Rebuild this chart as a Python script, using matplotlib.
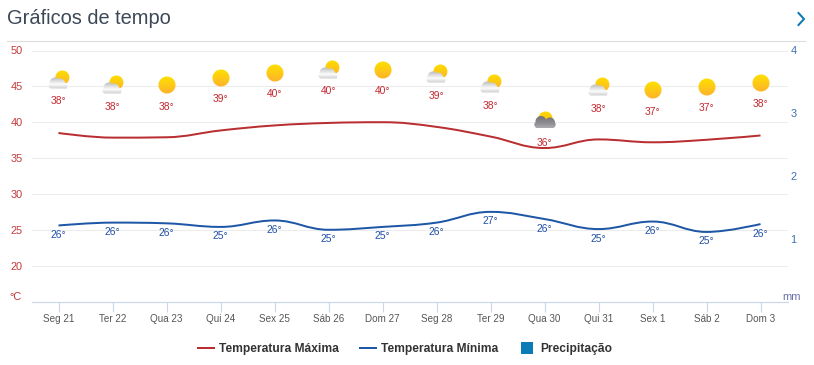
import numpy as np
import matplotlib
matplotlib.use("Agg")
import matplotlib.pyplot as plt
from matplotlib.lines import Line2D
from matplotlib.patches import PathPatch
from matplotlib.path import Path
from matplotlib.offsetbox import OffsetImage, AnnotationBbox

plt.rcParams['font.family'] = ['Liberation Sans', 'DejaVu Sans']

dias = ["Seg 21", "Ter 22", "Qua 23", "Qui 24", "Sex 25", "Sáb 26", "Dom 27",
        "Seg 28", "Ter 29", "Qua 30", "Qui 31", "Sex 1", "Sáb 2", "Dom 3"]
temp_max = [38.5, 37.85, 37.9, 38.85, 39.55, 39.9, 40.0, 39.35, 38.0, 36.4, 37.6, 37.2, 37.55, 38.15]
temp_min = [25.6, 26.0, 25.9, 25.4, 26.3, 25.0, 25.4, 26.0, 27.5, 26.5, 25.1, 26.15, 24.7, 25.8]
precip = [0] * 14
rotulos_max = [38, 38, 38, 39, 40, 40, 40, 39, 38, 36, 38, 37, 37, 38]
rotulos_min = [26, 26, 26, 25, 26, 25, 25, 26, 27, 26, 25, 26, 25, 26]
# hidden series that carries the weather icons and the max labels
nivel_icone = [42.89, 42.19, 42.19, 43.17, 43.93, 44.35, 44.35, 43.7, 42.3, 37.14, 41.88, 41.46, 41.94, 42.5]
tempo = ["nuvem", "nuvem", "sol", "sol", "sol", "nuvem", "sol",
         "nuvem", "nuvem", "chuva", "nuvem", "sol", "sol", "sol"]

W, H = 814, 365
VERMELHO = "#b92e30"
AZUL = "#1f57a7"
px = 72 / 100  # points per pixel


def spline(xs, ys):
    # same control points as a highcharts spline
    verts = [(xs[0], ys[0])]
    codes = [Path.MOVETO]
    n = len(xs)
    cont = []
    for i in range(n):
        if i == 0 or i == n - 1:
            cont.append((xs[i], ys[i], xs[i], ys[i]))
            continue
        x, y = xs[i], ys[i]
        lx = (1.5 * x + xs[i - 1]) / 2.5
        ly = (1.5 * y + ys[i - 1]) / 2.5
        rx = (1.5 * x + xs[i + 1]) / 2.5
        ry = (1.5 * y + ys[i + 1]) / 2.5
        c = (ry - ly) * (rx - x) / (rx - lx) + y - ry
        ly += c
        ry += c
        if ly > ys[i - 1] and ly > y:
            ly = max(ys[i - 1], y)
            ry = 2 * y - ly
        elif ly < ys[i - 1] and ly < y:
            ly = min(ys[i - 1], y)
            ry = 2 * y - ly
        if ry > ys[i + 1] and ry > y:
            ry = max(ys[i + 1], y)
            ly = 2 * y - ry
        elif ry < ys[i + 1] and ry < y:
            ry = min(ys[i + 1], y)
            ly = 2 * y - ry
        cont.append((lx, ly, rx, ry))
    for i in range(1, n):
        verts += [(cont[i - 1][2], cont[i - 1][3]), (cont[i][0], cont[i][1]), (xs[i], ys[i])]
        codes += [Path.CURVE4] * 3
    return Path(verts, codes)


def hexrgb(c):
    return np.array(matplotlib.colors.to_rgb(c))


def camada(img, alpha, topo, base, y0, y1, yy):
    # paints a vertical gradient through a mask onto the icon (premultiplied)
    t = np.clip((yy - y0) / (y1 - y0), 0, 1)[..., None]
    cor = hexrgb(topo) * (1 - t) + hexrgb(base) * t
    a = alpha[..., None]
    img[..., :3] = cor * a + img[..., :3] * (1 - a)
    img[..., 3] = alpha + img[..., 3] * (1 - alpha)


def icone(tipo):
    s = 26
    yy, xx = np.mgrid[0:s, 0:s] + 0.5 - s / 2
    img = np.zeros((s, s, 4))

    def disco(cx, cy, r):
        return np.clip(r + 0.5 - np.hypot(xx - cx, yy - cy), 0, 1)

    if tipo == "sol":
        camada(img, disco(0, 0, 8.5), "#ffdf00", "#fdb42a", -8, 8, yy)
    else:
        if tipo == "nuvem":
            camada(img, disco(3.4, -2.5, 7), "#ffdc00", "#fdb42a", -9, 5, yy)
            topo, meio, base = "#b8b8b8", "#fafafa", "#d2d2d2"
            nuvem = [(-4, 3, 5.5), (1, 3.5, 5), (5.5, 5.5, 3), (-7.5, 5.5, 3)]
            fundo, y_meio = 8.5, 4
        else:
            camada(img, disco(0.5, -2.5, 7), "#ffdc00", "#f8c010", -10, 0, yy)
            topo, meio, base = "#77777d", "#8f8f95", "#acacb0"
            nuvem = [(-4, 0.5, 5.5), (5, 1.5, 5), (-7, 3.5, 3.5), (7, 3.5, 3.5), (0, 3, 4)]
            fundo, y_meio = 7, 2
        mask = np.zeros((s, s))
        for c in nuvem:
            mask = np.maximum(mask, disco(c[0], c[1], c[2]))
        barra = np.clip(fundo + 0.5 - yy, 0, 1) * (yy > 3) * (np.abs(xx) < 8.5)
        mask = np.maximum(mask, barra)
        camada(img, mask, topo, meio, -3, y_meio, yy)
        camada(img, mask * np.clip((yy - y_meio) / 2, 0, 1), meio, base, y_meio, fundo, yy)
    # back to straight alpha, otherwise the edges come out dark
    a = np.maximum(img[..., 3:], 1e-6)
    img[..., :3] = np.clip(img[..., :3] / a, 0, 1)
    return img


fig = plt.figure(figsize=(W / 100, H / 100), dpi=100)
ax = fig.add_axes([31.5 / W, 1 - 301.5 / H, 756 / W, 251 / H])
x = np.arange(len(dias))

ax.set_xlim(-0.5, 13.5)
ax.set_ylim(15, 50)
ax.set_yticks(range(20, 55, 5))
ax.yaxis.grid(True, color="#ececec", lw=1.1 * px)
ax.set_axisbelow(True)
for lado in ["top", "left", "right"]:
    ax.spines[lado].set_visible(False)
ax.spines["bottom"].set_color("#ccd6eb")
ax.spines["bottom"].set_linewidth(1.2 * px)
ax.set_xticks(x)
ax.set_xticklabels(dias, fontsize=9.9 * px, color="#555555")
ax.tick_params(axis="x", length=10 * px, width=1.1 * px, color="#ccd6eb", pad=2.5 * px)
ax.tick_params(axis="y", length=0, labelsize=11 * px, labelcolor="#c43a3a", pad=9 * px)

ax2 = ax.twinx()
ax2.set_ylim(0, 4)
ax2.set_yticks([1, 2, 3, 4])
ax2.tick_params(axis="y", length=0, labelsize=11 * px, labelcolor="#3f6fb0", pad=3 * px)
for lado in ax2.spines:
    ax2.spines[lado].set_visible(False)
ax2.bar(x, precip, width=0.5, color="#0a7bb5")

ax.add_patch(PathPatch(spline(x, temp_max), fill=False, ec=VERMELHO, lw=2 * px, zorder=3))
ax.add_patch(PathPatch(spline(x, temp_min), fill=False, ec=AZUL, lw=2 * px, zorder=3))

icones = {t: icone(t) for t in set(tempo)}
for i in x:
    ax.annotate(f"{rotulos_max[i]}°", (i, nivel_icone[i]), ha="center", va="center",
                fontsize=10.3 * px, color="#c4262e", zorder=5)
    ax.annotate(f"{rotulos_min[i]}°", (i, temp_min[i]), xytext=(0, -9.5 * px),
                textcoords="offset points", ha="center", va="center",
                fontsize=10.3 * px, color="#1f4fa8", zorder=5)
    img = OffsetImage(icones[tempo[i]], zoom=1, dpi_cor=False)
    ab = AnnotationBbox(img, (i, nivel_icone[i]), xybox=(0, 21.5 * px), boxcoords="offset points",
                        frameon=False, pad=0, annotation_clip=False, zorder=4)
    ax.add_artist(ab)

# axis units sit beside the tick labels
fig.text(15 / W, 1 - 296.5 / H, "°C", fontsize=11 * px, color="#c43a3a", ha="center", va="center")
fig.text(792 / W, 1 - 296.5 / H, "mm", fontsize=11 * px, color="#6a6fa8", ha="center", va="center")

fig.text(7 / W, 1 - 18 / H, "Gráficos de tempo", fontsize=20 * px, color="#3c4858", ha="left", va="center")
fig.add_artist(Line2D([7 / W, 805 / W], [1 - 40.5 / H] * 2, color="#dddddd", lw=1.1 * px))
fig.add_artist(Line2D([798.5 / W, 804 / W, 798.5 / W], [1 - 13 / H, 1 - 19 / H, 1 - 25 / H],
                      color="#0b77b3", lw=2 * px))

handles = [Line2D([], [], color=VERMELHO, lw=2 * px),
           Line2D([], [], color=AZUL, lw=2 * px),
           Line2D([], [], color="#0a7bb5", ls="none", marker="s", ms=12 * px, mew=0)]
fig.legend(handles, ["Temperatura Máxima", "Temperatura Mínima", "Precipitação"],
           loc="center", bbox_to_anchor=(405 / W, 1 - 349 / H), ncol=3, frameon=False,
           prop={"size": 12 * px, "weight": "bold"}, labelcolor="#333333",
           handlelength=1.33, handletextpad=0.45, columnspacing=1.7)

fig.savefig("out.png", dpi=100)
